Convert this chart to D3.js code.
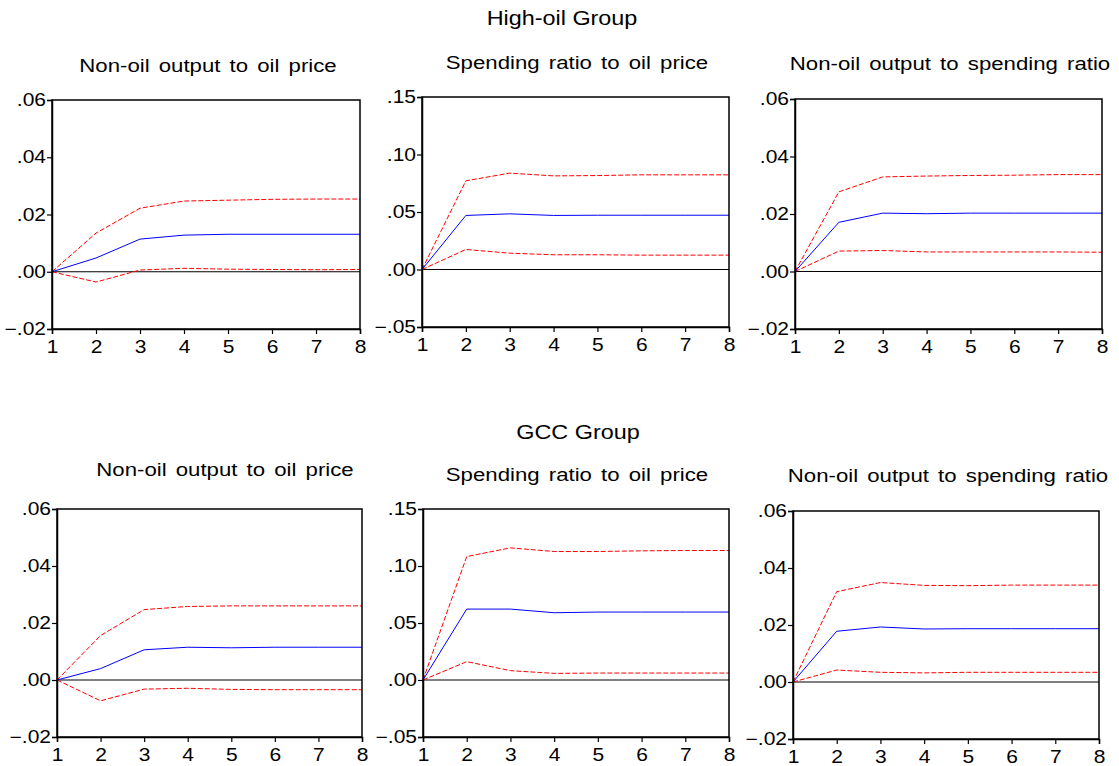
<!DOCTYPE html>
<html>
<head>
<meta charset="utf-8">
<script src="https://cdn.jsdelivr.net/npm/d3@7"></script>
<style>
  body { margin: 0; background: #fff; }
  text { font-family: "Liberation Sans", Arial, sans-serif; fill: #000; }
</style>
</head>
<body>
<div id="chart"></div>
<script>
// DATA

const periods = [1, 2, 3, 4, 5, 6, 7, 8];

const groupTitles = ["High-oil Group", "GCC Group"];

const panelTitles = [
  "Non-oil output to oil price", "Spending ratio to oil price", "Non-oil output to spending ratio",
  "Non-oil output to oil price", "Spending ratio to oil price", "Non-oil output to spending ratio"
];

const yTicksSmall = [-0.02, 0.00, 0.02, 0.04, 0.06];
const yTicksLarge = [-0.05, 0.00, 0.05, 0.10, 0.15];

// impulse response (blue), upper band and lower band (red dashed)
const hiOutOil = [0, 0.0048, 0.0114, 0.0128, 0.0131, 0.0131, 0.0131, 0.0131];
const hiOutOilUp = [0, 0.0135, 0.0222, 0.0247, 0.0250, 0.0253, 0.0254, 0.0254];
const hiOutOilLo = [0, -0.0036, 0.0006, 0.0012, 0.0009, 0.0008, 0.0007, 0.0008];

const hiSpOil = [0, 0.0470, 0.0484, 0.0470, 0.0472, 0.0472, 0.0472, 0.0472];
const hiSpOilUp = [0, 0.0771, 0.0838, 0.0814, 0.0817, 0.0823, 0.0823, 0.0823];
const hiSpOilLo = [0, 0.0174, 0.0142, 0.0128, 0.0128, 0.0125, 0.0125, 0.0125];

const hiOutSp = [0, 0.0171, 0.0203, 0.0201, 0.0203, 0.0203, 0.0203, 0.0203];
const hiOutSpUp = [0, 0.0277, 0.0329, 0.0332, 0.0334, 0.0335, 0.0337, 0.0337];
const hiOutSpLo = [0, 0.0071, 0.0073, 0.0068, 0.0068, 0.0068, 0.0068, 0.0067];

const gccOutOil = [0, 0.0040, 0.0106, 0.0115, 0.0113, 0.0115, 0.0115, 0.0115];
const gccOutOilUp = [0, 0.0156, 0.0247, 0.0258, 0.0260, 0.0260, 0.0260, 0.0260];
const gccOutOilLo = [0, -0.0073, -0.0032, -0.0029, -0.0033, -0.0034, -0.0034, -0.0034];

const gccSpOil = [0, 0.0622, 0.0622, 0.0590, 0.0596, 0.0596, 0.0596, 0.0596];
const gccSpOilUp = [0, 0.1083, 0.1159, 0.1127, 0.1127, 0.1133, 0.1136, 0.1136];
const gccSpOilLo = [0, 0.0161, 0.0082, 0.0058, 0.0061, 0.0061, 0.0061, 0.0061];

const gccOutSp = [0, 0.0178, 0.0193, 0.0186, 0.0187, 0.0187, 0.0187, 0.0187];
const gccOutSpUp = [0, 0.0317, 0.0349, 0.0339, 0.0338, 0.0340, 0.0340, 0.0340];
const gccOutSpLo = [0, 0.0042, 0.0034, 0.0032, 0.0034, 0.0034, 0.0034, 0.0034];

// LAYOUT

const width = 1119, height = 766;
const stretch = 1.2;   // the original text is drawn a little wider than normal

// plot frame of each panel: left, right, top, bottom, title position
const frames = [
  { x0: 52, x1: 360, y0: 100, y1: 329, tx: 208, ty: 72 },
  { x0: 422, x1: 729, y0: 97, y1: 327, tx: 577, ty: 69 },
  { x0: 795, x1: 1102, y0: 99, y1: 329, tx: 950, ty: 70 },
  { x0: 57, x1: 362, y0: 509, y1: 737, tx: 225, ty: 476 },
  { x0: 423, x1: 729, y0: 509, y1: 737, tx: 577, ty: 481 },
  { x0: 793, x1: 1099, y0: 511, y1: 739, tx: 948, ty: 482 }
];

const panels = [
  { ticks: yTicksSmall, mid: hiOutOil, up: hiOutOilUp, lo: hiOutOilLo },
  { ticks: yTicksLarge, mid: hiSpOil, up: hiSpOilUp, lo: hiSpOilLo },
  { ticks: yTicksSmall, mid: hiOutSp, up: hiOutSpUp, lo: hiOutSpLo },
  { ticks: yTicksSmall, mid: gccOutOil, up: gccOutOilUp, lo: gccOutOilLo },
  { ticks: yTicksLarge, mid: gccSpOil, up: gccSpOilUp, lo: gccSpOilLo },
  { ticks: yTicksSmall, mid: gccOutSp, up: gccOutSpUp, lo: gccOutSpLo }
];

const fmt = v => d3.format(".2f")(v).replace("0.", ".");

// CREATE THE SVG

var svg = d3.select("#chart")
  .append("svg")
  .attr("width", width)
  .attr("height", height);

function stretchedText(x, y, size, str) {
  return svg.append("text")
    .attr("transform", `translate(${x},${y}) scale(${stretch},1)`)
    .attr("text-anchor", "middle")
    .style("font-size", size + "px")
    .text(str);
}

stretchedText(562, 25, 19.5, groupTitles[0]);
stretchedText(578, 439, 19.5, groupTitles[1]);

// DRAW THE PANELS

panels.forEach((p, i) => {
  const f = frames[i];

  const x = d3.scaleLinear().domain([1, 8]).range([f.x0, f.x1]);
  const y = d3.scaleLinear().domain([p.ticks[0], p.ticks[p.ticks.length - 1]]).range([f.y1, f.y0]);

  const g = svg.append("g");

  stretchedText(f.tx, f.ty, 18.5, panelTitles[i])
    .style("word-spacing", "2.5px");

  // zero line
  g.append("line")
    .attr("x1", f.x0).attr("x2", f.x1)
    .attr("y1", y(0)).attr("y2", y(0))
    .attr("stroke", "#000")
    .attr("stroke-width", 1);

  const line = d3.line()
    .x((d, j) => x(periods[j]))
    .y(d => y(d));

  [p.up, p.lo].forEach(s => {
    g.append("path")
      .datum(s)
      .attr("d", line)
      .attr("fill", "none")
      .attr("stroke", "#ff0000")
      .attr("stroke-width", 1)
      .style("stroke-dasharray", "5, 2");
  });

  g.append("path")
    .datum(p.mid)
    .attr("d", line)
    .attr("fill", "none")
    .attr("stroke", "#0000ff")
    .attr("stroke-width", 1);

  // frame
  g.append("rect")
    .attr("x", f.x0).attr("y", f.y0)
    .attr("width", f.x1 - f.x0).attr("height", f.y1 - f.y0)
    .attr("fill", "none")
    .attr("stroke", "#000")
    .attr("stroke-width", 1.5);

  const yAxis = g.append("g")
    .attr("transform", `translate(${f.x0},0)`)
    .call(d3.axisLeft(y).tickValues(p.ticks).tickFormat(fmt).tickSize(5).tickPadding(1));

  const xAxis = g.append("g")
    .attr("transform", `translate(0,${f.y1})`)
    .call(d3.axisBottom(x).tickValues(periods).tickFormat(d3.format("d")).tickSize(5).tickPadding(7));

  [yAxis, xAxis].forEach(a => {
    a.select(".domain").attr("stroke-width", 1.5);
    a.selectAll(".tick line").attr("stroke-width", 1.2);
    a.selectAll("text")
      .style("font-size", "17.5px")
      .style("font-family", '"Liberation Sans", Arial, sans-serif')
      .attr("fill", "#000")
      .attr("x", function () { return (+d3.select(this).attr("x") || 0) / stretch; })
      .attr("transform", `scale(${stretch},1)`);
  });
});
</script>
</body>
</html>
